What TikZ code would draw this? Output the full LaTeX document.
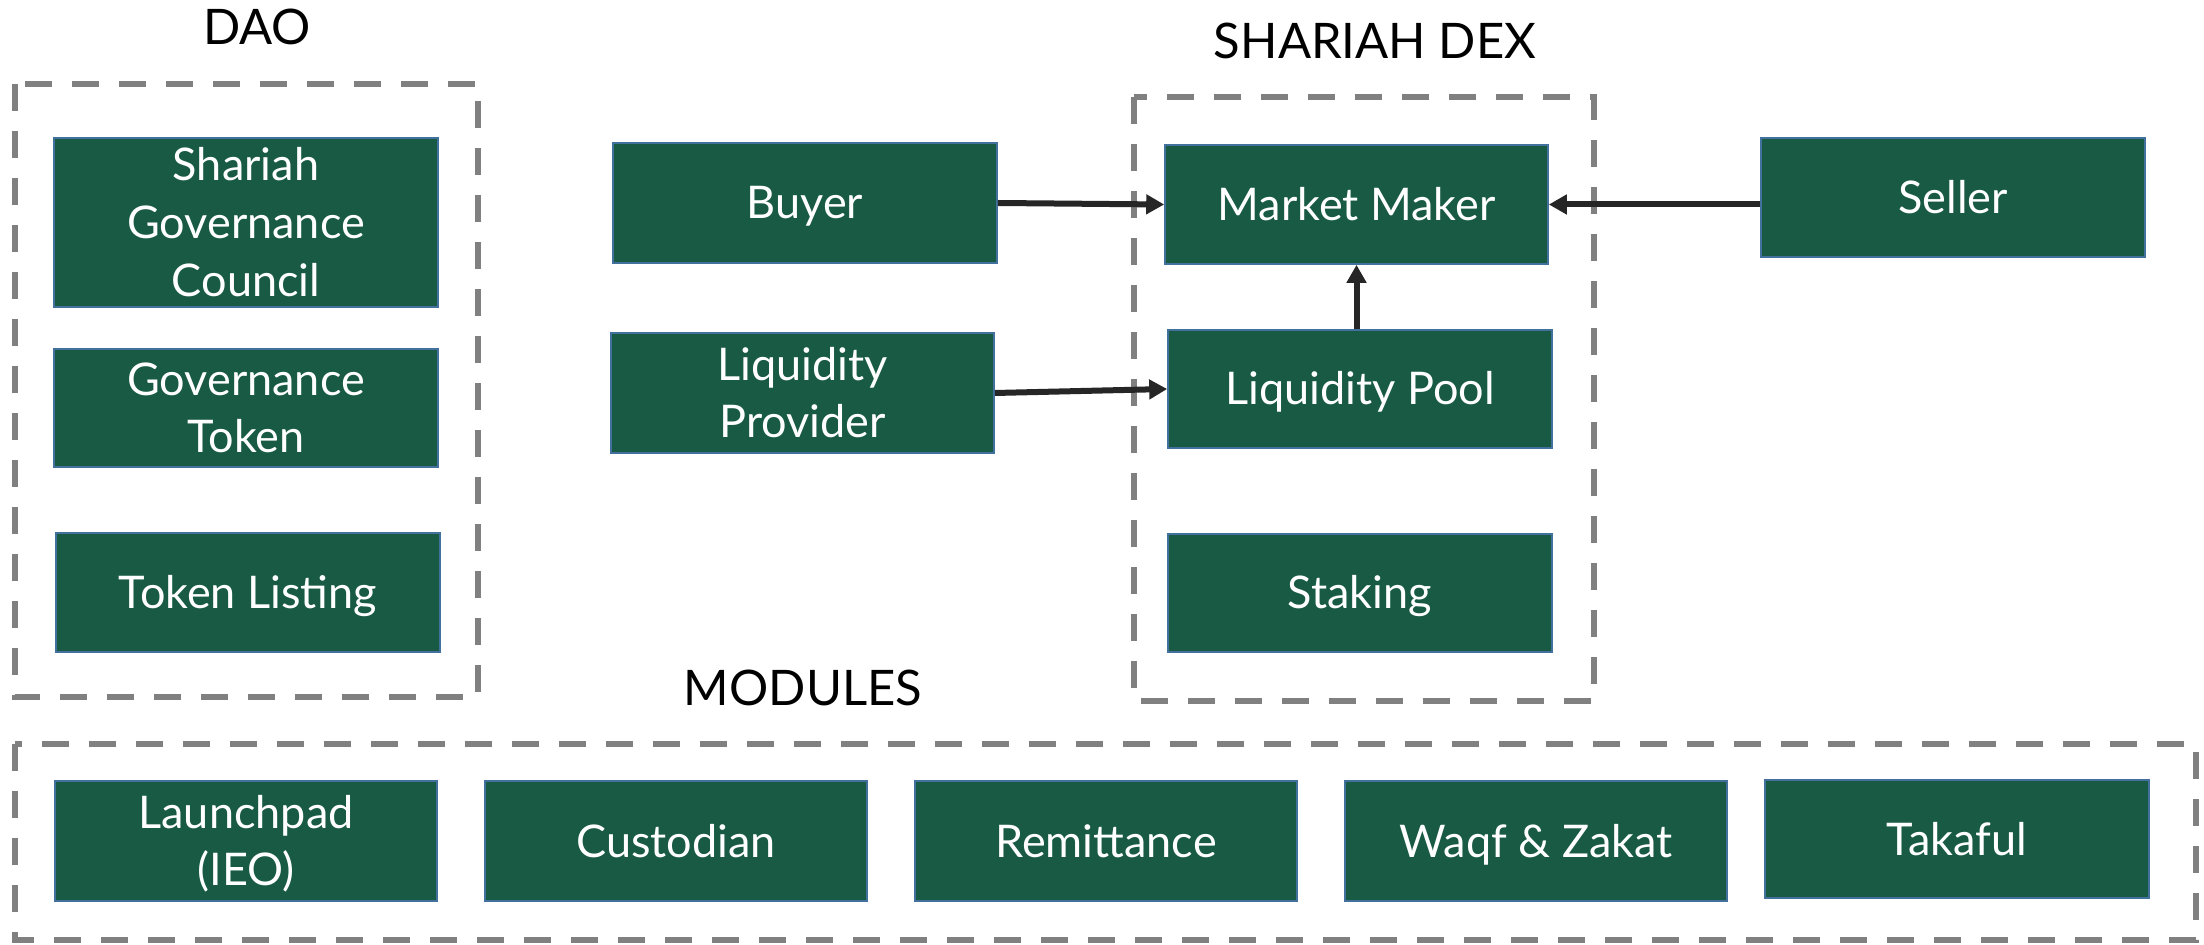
\documentclass[tikz,border=0pt]{standalone}
\usepackage{fontspec}
\setmainfont{Lato}
\usetikzlibrary{arrows.meta}
\definecolor{boxgreen}{HTML}{185A44}
\definecolor{boxedge}{HTML}{41719C}
\definecolor{dashgray}{HTML}{808080}
\definecolor{arrowdark}{HTML}{262626}
% fixed line height so every label sits on the same optical centre
\newcommand{\lineprop}{\rule[-5pt]{0pt}{26pt}}
\tikzset{
  block/.style={draw=boxedge, line width=0.8pt, fill=boxgreen, text=white,
    align=center, inner sep=0pt, font=\fontsize{22.5}{28.8}\selectfont},
  group/.style={draw=dashgray, line width=2.6pt, dash pattern=on 13.5pt off 10pt},
  title/.style={text=black, font=\fontsize{24.5}{28}\selectfont},
  link/.style={draw=arrowdark, line width=3pt, -{Triangle[length=9pt,width=9.5pt]}}
}
\newcommand{\blockat}[6]{%
  \node[block, minimum width={(#4-#2)*0.5pt}, minimum height={(#5-#3)*0.5pt}]
    (#1) at ({(#2+#4)/2},{(#3+#5)/2}) {\lineprop#6};}
\begin{document}
\begin{tikzpicture}[x=0.5pt,y=-0.5pt]
  \useasboundingbox (0,0) rectangle (2204,945);

  % dashed groupings
  \draw[group] (15,84) rectangle (478,697);
  \draw[group] (1134,97) rectangle (1594,701);
  \draw[group] (15,744) rectangle (2196,940);

  % group titles
  \node[title] (daoT) at (257,27) {DAO};
  \node[title] (dexT) at (1375,41) {SHARIAH DEX};
  \node[title] (modT) at (803,688) {MODULES};

  % DAO
  \blockat{council}{54}{138}{438}{307}{Shariah\\\lineprop Governance\\\lineprop Council}
  \blockat{token}{54}{349}{438}{467}{Governance\\\lineprop Token}
  \blockat{listing}{56}{533}{440}{652}{Token Listing}

  % participants
  \blockat{buyer}{613}{143}{997}{263}{Buyer}
  \blockat{provider}{611}{333}{994}{453}{Liquidity\\\lineprop Provider}
  \blockat{seller}{1761}{138}{2145}{257}{Seller}

  % DEX
  \blockat{maker}{1165}{145}{1548}{264}{Market Maker}
  \blockat{pool}{1168}{330}{1552}{448}{Liquidity Pool}
  \blockat{staking}{1168}{534}{1552}{652}{Staking}

  % modules
  \blockat{launch}{55}{781}{437}{901}{Launchpad\\\lineprop (IEO)}
  \blockat{custodian}{485}{781}{867}{901}{Custodian}
  \blockat{remit}{915}{781}{1297}{901}{Remittance}
  \blockat{waqf}{1345}{781}{1727}{901}{Waqf \& Zakat}
  \blockat{takaful}{1765}{780}{2149}{898}{Takaful}

  % flows
  \draw[link] (buyer.east) -- (maker.west);
  \draw[link] (provider.east) -- (pool.west);
  \draw[link] (seller.west |- maker.east) -- (maker.east);
  \draw[link] (pool.north -| maker.south) -- (maker.south);
\end{tikzpicture}
\end{document}
